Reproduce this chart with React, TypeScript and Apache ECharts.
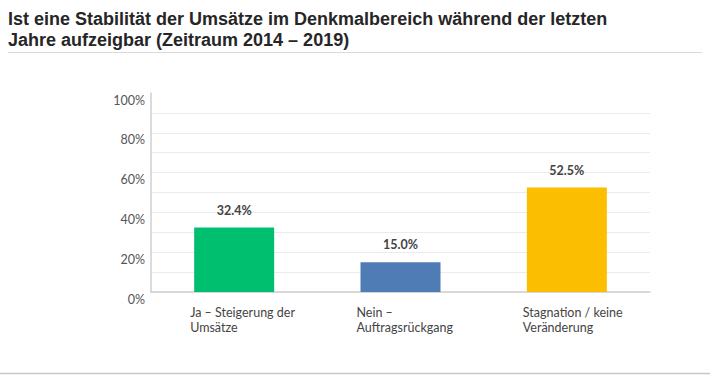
import React, { useEffect, useRef } from "react";
import * as echarts from "echarts";

const titleLines = [
  "Ist eine Stabilität der Umsätze im Denkmalbereich während der letzten",
  "Jahre aufzeigbar (Zeitraum 2014 – 2019)",
];
const categories = [
  "Ja – Steigerung der\nUmsätze",
  "Nein –\nAuftragsrückgang",
  "Stagnation / keine\nVeränderung",
];
const values = [32.4, 15.0, 52.5];
const barColors = ["#00bf6f", "#507cb6", "#fcbe00"];
const yTicks = { min: 0, max: 100, interval: 10, labelStep: 20 };

export default function App() {
  const ref = useRef<HTMLDivElement>(null);
  useEffect(() => {
    if (!ref.current) return;
    const chart = echarts.init(ref.current, null, { renderer: "svg" });
    const nLines = (yTicks.max - yTicks.min) / yTicks.interval + 1;
    const gridColors = Array.from({ length: nLines }, (_, i) =>
      i === nLines - 1 ? "rgba(0,0,0,0)" : "#ebebeb"
    );
    chart.setOption({
      animation: false,
      backgroundColor: "#ffffff",
      graphic: [
        {
          type: "text",
          left: 8,
          top: 8,
          style: {
            text: titleLines.join("\n"),
            font: "bold 18px 'Liberation Sans', Arial, sans-serif",
            fill: "#262626",
            lineHeight: 21,
          },
        },
        {
          type: "line",
          shape: { x1: 8, y1: 52.5, x2: 702, y2: 52.5 },
          style: { stroke: "#d9d9d9", lineWidth: 1 },
        },
        {
          type: "line",
          shape: { x1: 0, y1: 373.5, x2: 710, y2: 373.5 },
          style: { stroke: "#c8c8c8", lineWidth: 1.5 },
        },
      ],
      grid: { left: 151, right: 60, top: 93, bottom: 100 },
      xAxis: {
        type: "category",
        data: categories,
        axisLine: { show: true, lineStyle: { color: "#cfcfcf", width: 1.5 } },
        axisTick: { show: false },
        axisLabel: {
          margin: 13,
          width: 88,
          align: "center",
          formatter: (v: string) =>
            v
              .split("\n")
              .map((l) => `{a|${l}}`)
              .join("\n"),
          rich: {
            a: {
              align: "left",
              fontFamily: "Lato, 'Noto Sans', sans-serif",
              fontSize: 12.5,
              color: "#444",
              lineHeight: 15,
            },
          },
        },
      },
      yAxis: {
        type: "value",
        min: yTicks.min,
        max: yTicks.max,
        interval: yTicks.interval,
        axisLine: { show: true, lineStyle: { color: "#cfcfcf", width: 1.5 } },
        axisTick: { show: false },
        splitLine: { show: true, lineStyle: { color: gridColors, width: 1 } },
        axisLabel: {
          margin: 6,
          verticalAlign: "top",
          lineHeight: 14,
          formatter: (v: number) => (v % yTicks.labelStep === 0 ? `${v}%` : ""),
          fontFamily: "Lato, 'Noto Sans', sans-serif",
          fontSize: 12.5,
          color: "#555",
        },
      },
      series: [
        {
          type: "bar",
          barWidth: 80,
          data: values.map((v, i) => ({ value: v, itemStyle: { color: barColors[i] } })),
          label: {
            show: true,
            position: "top",
            distance: 11,
            formatter: (p: any) => `${p.value.toFixed(1)}%`,
            fontFamily: "Lato, 'Noto Sans', sans-serif",
            fontWeight: "bold",
            fontSize: 12.5,
            color: "#444",
          },
        },
      ],
    });
    return () => chart.dispose();
  }, []);
  return (
    <div
      ref={ref}
      style={{ position: "fixed", left: 0, top: 0, width: 710, height: 392 }}
    />
  );
}
